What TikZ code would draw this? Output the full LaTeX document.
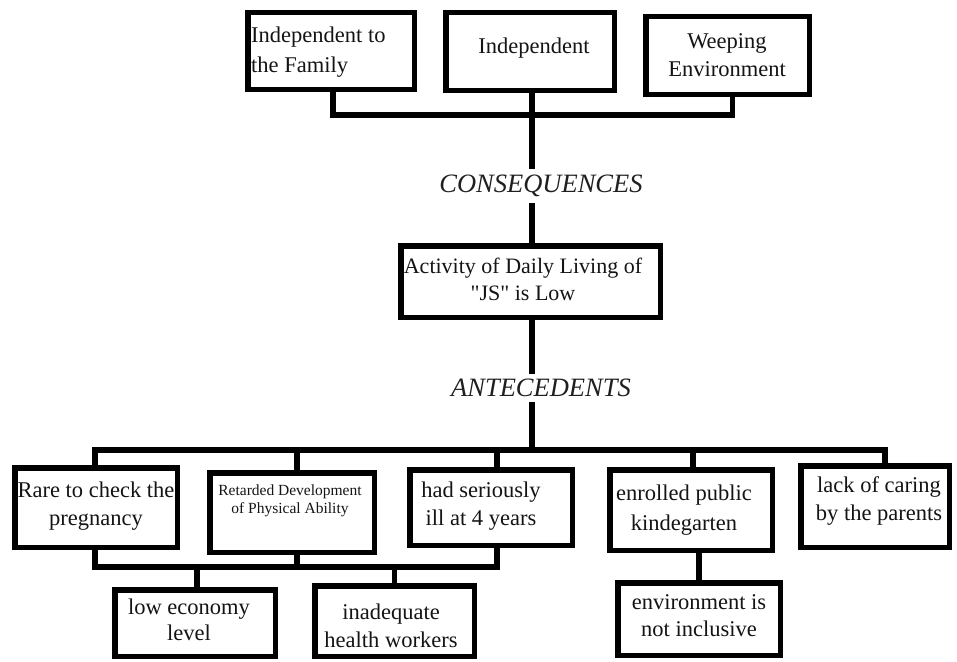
\documentclass[tikz,border=0pt]{standalone}
\usepackage{fontspec}
\setmainfont{Liberation Serif}[Ligatures=TeXOff]
\begin{document}
\begin{tikzpicture}[x=1pt,y=-1pt,
  box/.style={draw=black, line width=5.5pt, fill=white, inner sep=0pt, line join=miter},
  link/.style={draw=black, line width=5.5pt, line join=miter, line cap=rect},
  txt/.style={inner sep=0pt, align=center, text=black!92, font=\fontsize{22.5}{28}\selectfont},
  small/.style={inner sep=0pt, align=center, text=black!92, font=\fontsize{15.5}{18}\selectfont},
  head/.style={inner sep=0pt, text=black!88, font=\itshape\fontsize{26.5}{30}\selectfont}]
\useasboundingbox (0,0) rectangle (957,661);
\fill[white] (0,0) rectangle (957,661);

% ---- outcomes ----
\node[box, minimum width=166.5, minimum height=76.5] (b1) at (331,51) {};
\node[box, minimum width=168.5, minimum height=77.5] (b2) at (530,51.5) {};
\node[box, minimum width=163.5, minimum height=77.5] (b3) at (727.5,55.5) {};
\node[txt, anchor=west, align=left, font=\fontsize{22.5}{30}\selectfont] (b1t) at (251,52) {Independent to\\the Family};
\node[txt] (b2t) at (534,48) {Independent};
\node[txt, font=\fontsize{22.5}{28}\selectfont] (b3t) at (727,55) {Weeping\\Environment};

\node[head, minimum height=40] (cons) at (541,186) {CONSEQUENCES};

% ---- central problem ----
\node[box, minimum width=259.5, minimum height=71.5] (act) at (530.5,281.5) {};
\node[txt, font=\fontsize{22}{27}\selectfont] (actt) at (523,279) {Activity of Daily Living of\\"JS" is Low};

\node[head, minimum height=34] (ante) at (541,388) {ANTECEDENTS};

% ---- causes ----
\node[box, minimum width=162.5, minimum height=79.5] (r1) at (96,507.5) {};
\node[box, minimum width=164.5, minimum height=79.5] (r2) at (292,512.5) {};
\node[box, minimum width=162.5, minimum height=75.5] (r3) at (491,507.5) {};
\node[box, minimum width=162.5, minimum height=80.5] (r4) at (691,510) {};
\node[box, minimum width=148.5, minimum height=81.5] (r5) at (875,506.5) {};

\node[txt] (r1t) at (96,506) {Rare to check the\\pregnancy};
\node[small] (r2t) at (290,501) {Retarded Development\\of Physical Ability};
\node[txt] (r3t) at (481,506) {had seriously\\ill at 4 years};
\node[txt, font=\fontsize{22.5}{30}\selectfont] (r4t) at (684,510) {enrolled public\\kindegarten};
\node[txt] (r5t) at (879,501) {lack of caring\\by the parents};

% ---- underlying causes ----
\node[box, minimum width=160.5, minimum height=66.5] (l1) at (195,623) {};
\node[box, minimum width=159.5, minimum height=70.5] (l2) at (394.5,621) {};
\node[box, minimum width=162.5, minimum height=72.5] (e) at (699,619) {};

\node[txt, font=\fontsize{22.5}{26}\selectfont] (l1t) at (189,620) {low economy\\level};
\node[txt] (l2t) at (391,626) {inadequate\\health workers};
\node[txt, font=\fontsize{22.5}{27}\selectfont] (et) at (699,616) {environment is\\not inclusive};

% ---- connectors ----
\coordinate (spine) at (532,0);
\coordinate (topbar) at (532,115);
\coordinate (rowbar) at (532,450);
\coordinate (lowbar) at (300,567);

\draw[link] ([xshift=2]b1.south) |- (topbar) -| ([xshift=5]b3.south);
\draw[link] (spine |- b2.south) -- (spine |- cons.north);
\draw[link] (spine |- cons.south) -- (spine |- act.north);
\draw[link] (spine |- act.south) -- (spine |- ante.north);
\draw[link] (spine |- ante.south) -- (rowbar);

\draw[link] ([xshift=-1]r1.north) |- (rowbar) -| ([xshift=10]r5.north);
\draw[link] ([xshift=5]r2.north) -- ([xshift=5]r2.north |- rowbar);
\draw[link] ([xshift=6]r3.north) -- ([xshift=6]r3.north |- rowbar);
\draw[link] ([xshift=2]r4.north) -- ([xshift=2]r4.north |- rowbar);

\draw[link] ([xshift=-1]r1.south) |- (lowbar) -| ([xshift=6]r3.south);
\draw[link] ([xshift=5]r2.south) -- ([xshift=5]r2.south |- lowbar);
\draw[link] ([xshift=2]l1.north) -- ([xshift=2]l1.north |- lowbar);
\draw[link] (l2.north) -- (l2.north |- lowbar);

\draw[link] (e.north |- r4.south) -- (e.north);
\end{tikzpicture}
\end{document}
